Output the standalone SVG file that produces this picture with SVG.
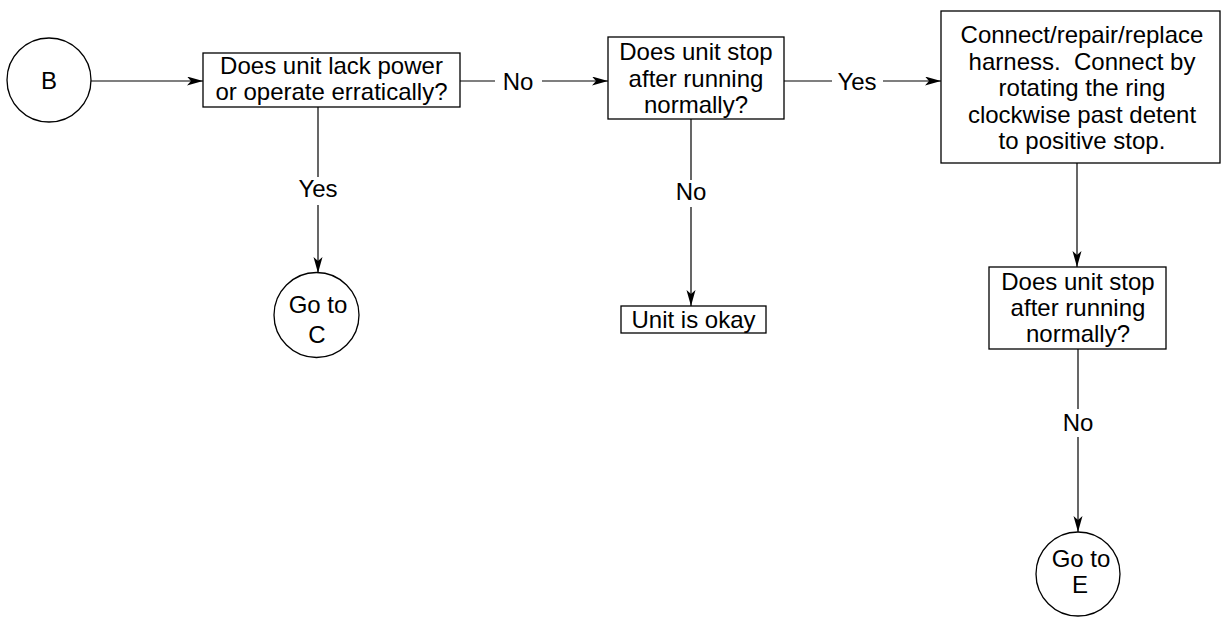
<svg xmlns="http://www.w3.org/2000/svg" width="1225" height="624" viewBox="0 0 1225 624">
  <style>
    .box { fill: #fff; stroke: #000; stroke-width: 1.3; }
    .ring { fill: #fff; stroke: #000; stroke-width: 1.3; }
    .t { font-family: "Liberation Sans", Arial, Helvetica, sans-serif; font-size: 24px; fill: #000; text-anchor: middle; white-space: pre; }
    .edge { fill: none; stroke: #000; stroke-width: 1.2; }
  </style>
  <defs>
    <marker id="arrow" markerUnits="userSpaceOnUse" markerWidth="18" markerHeight="10" refX="16" refY="4.5" orient="auto">
      <path d="M0,0 L16,4.5 L0,9 L4,4.5 z" fill="#000"/>
    </marker>
  </defs>
  <rect width="1225" height="624" fill="#fff"/>

  <!-- connectors -->
  <g id="connectors">
    <line class="edge" x1="91" y1="81" x2="203" y2="81" marker-end="url(#arrow)"/>

    <line class="edge" x1="460" y1="81" x2="495" y2="81"/>
    <line class="edge" x1="542" y1="81" x2="608" y2="81" marker-end="url(#arrow)"/>
    <text class="t" x="518" y="90">No</text>

    <line class="edge" x1="784" y1="81" x2="832" y2="81"/>
    <line class="edge" x1="883" y1="81" x2="941" y2="81" marker-end="url(#arrow)"/>
    <text class="t" x="857" y="90">Yes</text>

    <line class="edge" x1="318" y1="107" x2="318" y2="177"/>
    <line class="edge" x1="318" y1="205" x2="318" y2="273" marker-end="url(#arrow)"/>
    <text class="t" x="318" y="197">Yes</text>

    <line class="edge" x1="691" y1="119" x2="691" y2="180"/>
    <line class="edge" x1="691" y1="207" x2="691" y2="306" marker-end="url(#arrow)"/>
    <text class="t" x="691" y="200">No</text>

    <line class="edge" x1="1077" y1="163" x2="1077" y2="267" marker-end="url(#arrow)"/>

    <line class="edge" x1="1078" y1="349" x2="1078" y2="409"/>
    <line class="edge" x1="1078" y1="437" x2="1078" y2="532" marker-end="url(#arrow)"/>
    <text class="t" x="1078" y="431">No</text>
  </g>

  <!-- start connector B -->
  <g id="node-b">
    <circle class="ring" cx="49" cy="80" r="42"/>
    <text class="t" x="49" y="89">B</text>
  </g>

  <g id="node-lack-power">
    <rect class="box" x="203" y="53" width="257" height="54"/>
    <text class="t" x="331.5" y="74">Does unit lack power</text>
    <text class="t" x="331.5" y="100">or operate erratically?</text>
  </g>

  <g id="node-stop-1">
    <rect class="box" x="608" y="37" width="176" height="82"/>
    <text class="t" x="696" y="60">Does unit stop</text>
    <text class="t" x="696" y="87">after running</text>
    <text class="t" x="696" y="113">normally?</text>
  </g>

  <g id="node-harness">
    <rect class="box" x="941" y="11" width="279" height="152"/>
    <text class="t" x="1082" y="43">Connect/repair/replace</text>
    <text class="t" x="1082" y="69.5">harness.  Connect by</text>
    <text class="t" x="1082" y="96">rotating the ring</text>
    <text class="t" x="1082" y="122.5">clockwise past detent</text>
    <text class="t" x="1082" y="149">to positive stop.</text>
  </g>

  <g id="node-stop-2">
    <rect class="box" x="989" y="267" width="177" height="82"/>
    <text class="t" x="1078" y="290">Does unit stop</text>
    <text class="t" x="1078" y="316">after running</text>
    <text class="t" x="1078" y="342">normally?</text>
  </g>

  <g id="node-okay">
    <rect class="box" x="621" y="306" width="145" height="27"/>
    <text class="t" x="693.5" y="328">Unit is okay</text>
  </g>

  <g id="node-goto-c">
    <circle class="ring" cx="316.5" cy="315" r="42.5"/>
    <text class="t" x="318" y="313">Go to</text>
    <text class="t" x="317" y="343">C</text>
  </g>

  <g id="node-goto-e">
    <circle class="ring" cx="1078" cy="574" r="42"/>
    <text class="t" x="1081" y="567">Go to</text>
    <text class="t" x="1080" y="593">E</text>
  </g>
</svg>
